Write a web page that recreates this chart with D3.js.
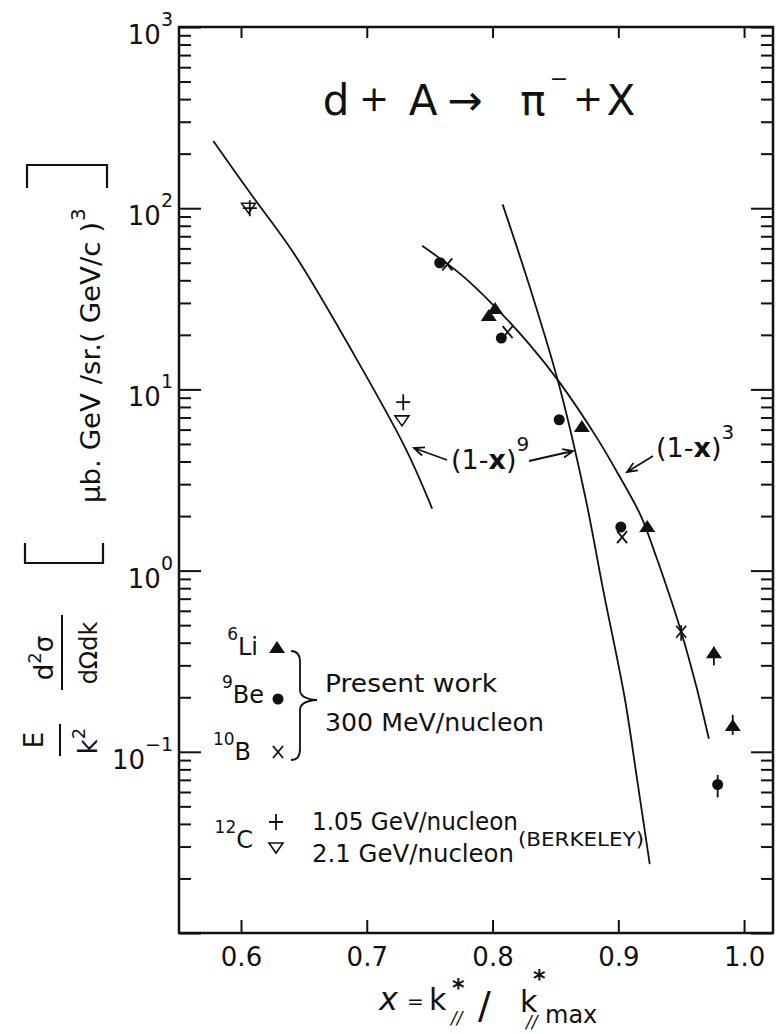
<!DOCTYPE html>
<meta charset="utf-8">
<script src="https://d3js.org/d3.v7.min.js"></script>
<style>
  body { margin: 0; background: #fff; }
  text { font-family: "DejaVu Sans", sans-serif; fill: #111; }
</style>
<div id="chart"></div>
<script>
// values: [x, E/k^2 d2s/dOdk]
var li6 = [[0.797, 25.4], [0.802, 27.8], [0.871, 6.2], [0.923, 1.74], [0.976, 0.35], [0.991, 0.139]];
var be9 = [[0.758, 50], [0.807, 19.2], [0.853, 6.8], [0.902, 1.74], [0.979, 0.066]];
var b10 = [[0.764, 49], [0.812, 20.7], [0.903, 1.53], [0.950, 0.46]];
var c12_105 = [[0.607, 100], [0.729, 8.5]];
var c12_21 = [[0.606, 100], [0.728, 6.7]];
// error bars [x, low, high]
var errBars = [[0.950, 0.41, 0.50], [0.976, 0.30, 0.38], [0.991, 0.124, 0.16], [0.979, 0.056, 0.0745]];

// fitted curves, points
var fit9a = [[0.578, 235], [0.607, 122], [0.643, 55], [0.690, 15.5], [0.731, 4.7], [0.752, 2.2]];
var fit9b = [[0.808, 105], [0.830, 36], [0.853, 10.5], [0.874, 2.5], [0.888, 0.78], [0.905, 0.2], [0.915, 0.07], [0.925, 0.024]];
var fit3 = [[0.744, 62], [0.775, 43], [0.80, 29.5], [0.83, 17.5], [0.853, 11], [0.883, 5.4], [0.90, 3.4],
            [0.918, 2.0], [0.93, 1.2], [0.941, 0.72], [0.95, 0.46], [0.962, 0.23], [0.972, 0.118]];

var xTicks = [0.6, 0.7, 0.8, 0.9, 1.0];
var yDecades = [0.01, 0.1, 1, 10, 100, 1000];
var yLabels = [[0.1, "\u22121"], [1, "0"], [10, "1"], [100, "2"], [1000, "3"]];

var W = 778, H = 1034;
var box = {left: 179, right: 773, top: 27, bottom: 933};

var svg = d3.select("#chart").append("svg")
    .attr("width", W)
    .attr("height", H);

var x = d3.scaleLinear().domain([0.5507, 1.023]).range([box.left, box.right]);
var y = d3.scaleLog().domain([0.01, 1000]).range([box.bottom, box.top]);

// minor tick values 2..9 per decade
var yMinor = [];
yDecades.slice(0, -1).forEach(function(d) {
  for (var m = 2; m <= 9; m++) yMinor.push(d * m);
});

function noDomain(g) { g.select(".domain").remove(); g.selectAll("line").attr("stroke", "#111").attr("stroke-width", 2); }

// Left axis ticks
svg.append("g").attr("transform", "translate(" + box.left + ",0)")
  .call(d3.axisLeft(y).tickValues(yDecades).tickSize(-22).tickFormat(""))
  .call(noDomain);
svg.append("g").attr("transform", "translate(" + box.left + ",0)")
  .call(d3.axisLeft(y).tickValues(yMinor).tickSize(-12).tickFormat(""))
  .call(noDomain);
// Right axis ticks
svg.append("g").attr("transform", "translate(" + box.right + ",0)")
  .call(d3.axisRight(y).tickValues(yDecades).tickSize(-22).tickFormat(""))
  .call(noDomain);
svg.append("g").attr("transform", "translate(" + box.right + ",0)")
  .call(d3.axisRight(y).tickValues(yMinor).tickSize(-12).tickFormat(""))
  .call(noDomain);
// Top axis ticks
svg.append("g").attr("transform", "translate(0," + box.top + ")")
  .call(d3.axisTop(x).tickValues(xTicks).tickSize(-11).tickFormat(""))
  .call(noDomain);
// Bottom axis with labels
var xb = svg.append("g").attr("transform", "translate(0," + box.bottom + ")")
  .call(d3.axisBottom(x).tickValues(xTicks).tickSize(-13).tickPadding(15).tickFormat(d3.format(".1f")))
  .call(noDomain);
xb.selectAll("text").attr("font-size", 26).attr("font-family", "DejaVu Sans").attr("fill", "#111");

// frame
svg.append("rect")
  .attr("x", box.left).attr("y", box.top)
  .attr("width", box.right - box.left).attr("height", box.bottom - box.top)
  .attr("fill", "none").attr("stroke", "#111").attr("stroke-width", 2.5);

// y labels 10^n
yLabels.forEach(function(d) {
  var t = svg.append("text")
    .attr("x", 173).attr("y", y(d[0]) + 17)
    .attr("text-anchor", "end").attr("font-size", 26);
  t.append("tspan").text("10");
  t.append("tspan").attr("dy", -18).attr("font-size", 19).text(d[1]);
});

// curves
var line = d3.line()
  .x(function(d) { return x(d[0]); })
  .y(function(d) { return y(d[1]); })
  .curve(d3.curveCatmullRom);

[fit9a, fit9b, fit3].forEach(function(c) {
  svg.append("path").datum(c)
    .attr("d", line)
    .attr("fill", "none").attr("stroke", "#111").attr("stroke-width", 1.8);
});

// marker drawers
function tri(g, cx, cy) {
  g.append("path").attr("d", "M" + (cx - 8) + "," + (cy + 5) + "L" + (cx + 8) + "," + (cy + 5) + "L" + cx + "," + (cy - 7) + "Z")
    .attr("fill", "#111");
}
function dot(g, cx, cy) {
  g.append("circle").attr("cx", cx).attr("cy", cy).attr("r", 5.5).attr("fill", "#111");
}
function cross(g, cx, cy) {
  g.append("path").attr("d", "M" + (cx - 5) + "," + (cy - 6) + "L" + (cx + 5) + "," + (cy + 6) + "M" + (cx + 5) + "," + (cy - 6) + "L" + (cx - 5) + "," + (cy + 6))
    .attr("stroke", "#111").attr("stroke-width", 1.8);
}
function plus(g, cx, cy) {
  g.append("path").attr("d", "M" + (cx - 7) + "," + cy + "L" + (cx + 7) + "," + cy + "M" + cx + "," + (cy - 8) + "L" + cx + "," + (cy + 8))
    .attr("stroke", "#111").attr("stroke-width", 1.8);
}
function vtri(g, cx, cy) {
  g.append("path").attr("d", "M" + (cx - 7) + "," + (cy - 5) + "L" + (cx + 7) + "," + (cy - 5) + "L" + cx + "," + (cy + 5) + "Z")
    .attr("fill", "#fff").attr("stroke", "#111").attr("stroke-width", 1.6);
}

var pts = svg.append("g");
errBars.forEach(function(d) {
  pts.append("line")
    .attr("x1", x(d[0])).attr("x2", x(d[0]))
    .attr("y1", y(d[1])).attr("y2", y(d[2]))
    .attr("stroke", "#111").attr("stroke-width", 1.8);
});
c12_21.forEach(function(d) { vtri(pts, x(d[0]), y(d[1])); });
c12_105.forEach(function(d) { plus(pts, x(d[0]), y(d[1])); });
b10.forEach(function(d) { cross(pts, x(d[0]), y(d[1])); });
be9.forEach(function(d) { dot(pts, x(d[0]), y(d[1])); });
li6.forEach(function(d) { tri(pts, x(d[0]), y(d[1])); });

// title d + A -> pi- + X
var title = [["d", 336, 115, 42], ["+", 374, 111, 36], ["A", 423, 115, 42], ["\u2192", 465, 115, 42],
             ["\u03c0", 533, 115, 42], ["\u2212", 559, 86, 22], ["+", 588, 111, 36], ["X", 621, 115, 42]];
title.forEach(function(t) {
  svg.append("text").attr("x", t[1]).attr("y", t[2]).attr("text-anchor", "middle")
    .attr("font-size", t[3]).text(t[0]);
});

// curve labels
function powLabel(x0, yb, sup) {
  var t = svg.append("text").attr("x", x0).attr("y", yb).attr("font-size", 27);
  t.append("tspan").text("(1-");
  t.append("tspan").attr("font-weight", "bold").text("x");
  t.append("tspan").text(")");
  t.append("tspan").attr("dy", -18).attr("font-size", 20).text(sup);
}
powLabel(451, 469, "9");
powLabel(656, 457, "3");

function arrow(x1, y1, x2, y2) {
  var a = Math.atan2(y2 - y1, x2 - x1), L = 11, s = 0.4;
  svg.append("path")
    .attr("d", "M" + x1 + "," + y1 + "L" + x2 + "," + y2 +
      "M" + (x2 - L * Math.cos(a - s)) + "," + (y2 - L * Math.sin(a - s)) + "L" + x2 + "," + y2 +
      "L" + (x2 - L * Math.cos(a + s)) + "," + (y2 - L * Math.sin(a + s)))
    .attr("fill", "none").attr("stroke", "#111").attr("stroke-width", 1.8);
}
arrow(447, 460, 414, 448);
arrow(529, 461, 573, 451);
arrow(653, 456, 627, 472);

// legend
var lg = svg.append("g");
function iso(xx, yb, mass, el) {
  var t = lg.append("text").attr("x", xx).attr("y", yb).attr("text-anchor", "end").attr("font-size", 24);
  t.append("tspan").attr("font-size", 17).attr("dy", -15).text(mass);
  t.append("tspan").attr("dy", 15).text(el);
}
iso(258, 655, "6", "Li");
iso(264, 703, "9", "Be");
iso(251, 760, "10", "B");
iso(253, 848, "12", "C");
tri(lg, 277, 648);
dot(lg, 278, 699);
cross(lg, 278, 752);
plus(lg, 276, 822);
vtri(lg, 276, 848);

lg.append("path")
  .attr("d", "M291,651 Q300,651 300,662 L300,690 Q300,699 317,700 Q300,701 300,710 L300,749 Q300,760 291,760")
  .attr("fill", "none").attr("stroke", "#111").attr("stroke-width", 1.8);

lg.append("text").attr("x", 325).attr("y", 692).attr("font-size", 24)
  .attr("textLength", 172).attr("lengthAdjust", "spacingAndGlyphs").text("Present work");
lg.append("text").attr("x", 325).attr("y", 731).attr("font-size", 24)
  .attr("textLength", 219).attr("lengthAdjust", "spacingAndGlyphs").text("300 MeV/nucleon");
lg.append("text").attr("x", 312).attr("y", 830).attr("font-size", 24)
  .attr("textLength", 206).attr("lengthAdjust", "spacingAndGlyphs").text("1.05 GeV/nucleon");
lg.append("text").attr("x", 312).attr("y", 862).attr("font-size", 24)
  .attr("textLength", 202).attr("lengthAdjust", "spacingAndGlyphs").text("2.1  GeV/nucleon");
lg.append("text").attr("x", 518).attr("y", 846).attr("font-size", 19)
  .attr("textLength", 126).attr("lengthAdjust", "spacingAndGlyphs").text("(BERKELEY)");

// x axis title
var xt = svg.append("g");
xt.append("text").attr("x", 379).attr("y", 1010).attr("font-size", 32).attr("font-style", "italic").text("x");
xt.append("text").attr("x", 407).attr("y", 1008).attr("font-size", 20).text("=");
xt.append("text").attr("x", 429).attr("y", 1010).attr("font-size", 30).text("k");
xt.append("text").attr("x", 452).attr("y", 996).attr("font-size", 24).attr("font-weight", "bold").text("*");
xt.append("text").attr("x", 451).attr("y", 1024).attr("font-size", 17).attr("font-style", "italic").text("//");
xt.append("text").attr("x", 478).attr("y", 1018).attr("font-size", 38).text("/");
xt.append("text").attr("x", 520).attr("y", 1012).attr("font-size", 30).text("k");
xt.append("text").attr("x", 533).attr("y", 987).attr("font-size", 24).attr("font-weight", "bold").text("*");
xt.append("text").attr("x", 526).attr("y", 1028).attr("font-size", 17).attr("font-style", "italic").text("//");
xt.append("text").attr("x", 545).attr("y", 1023).attr("font-size", 24).text("max");

// y axis title (rotated)
var yt = svg.append("g");
function rtext(cx, cy, size) {
  return yt.append("text").attr("transform", "translate(" + cx + "," + cy + ") rotate(-90)")
    .attr("text-anchor", "middle").attr("font-size", size);
}
rtext(43, 740, 26).text("E");
var k2 = rtext(97, 741, 26);
k2.append("tspan").text("k");
k2.append("tspan").attr("dy", -12).attr("font-size", 18).text("2");
var num = rtext(53, 658, 26);
num.append("tspan").text("d");
num.append("tspan").attr("dy", -12).attr("font-size", 18).text("2");
num.append("tspan").attr("dy", 12).text("\u03c3");
rtext(97, 653, 24).text("d\u03a9dk");
yt.append("line").attr("x1", 60).attr("x2", 60).attr("y1", 724).attr("y2", 756)
  .attr("stroke", "#111").attr("stroke-width", 2);
yt.append("line").attr("x1", 62).attr("x2", 62).attr("y1", 615).attr("y2", 690)
  .attr("stroke", "#111").attr("stroke-width", 2);
yt.append("path").attr("d", "M25,543 L25,563 L103,563 L103,543")
  .attr("fill", "none").attr("stroke", "#111").attr("stroke-width", 2.2);
yt.append("path").attr("d", "M27,188 L27,165 L107,165 L107,188")
  .attr("fill", "none").attr("stroke", "#111").attr("stroke-width", 2.2);
var unit = yt.append("text").attr("transform", "translate(100,503) rotate(-90)").attr("font-size", 27);
unit.append("tspan").attr("textLength", 281).attr("lengthAdjust", "spacingAndGlyphs").text("\u03bcb. GeV /sr.( GeV/c )");
unit.append("tspan").attr("dy", -15).attr("dx", 1).attr("font-size", 20).text("3");
</script>
